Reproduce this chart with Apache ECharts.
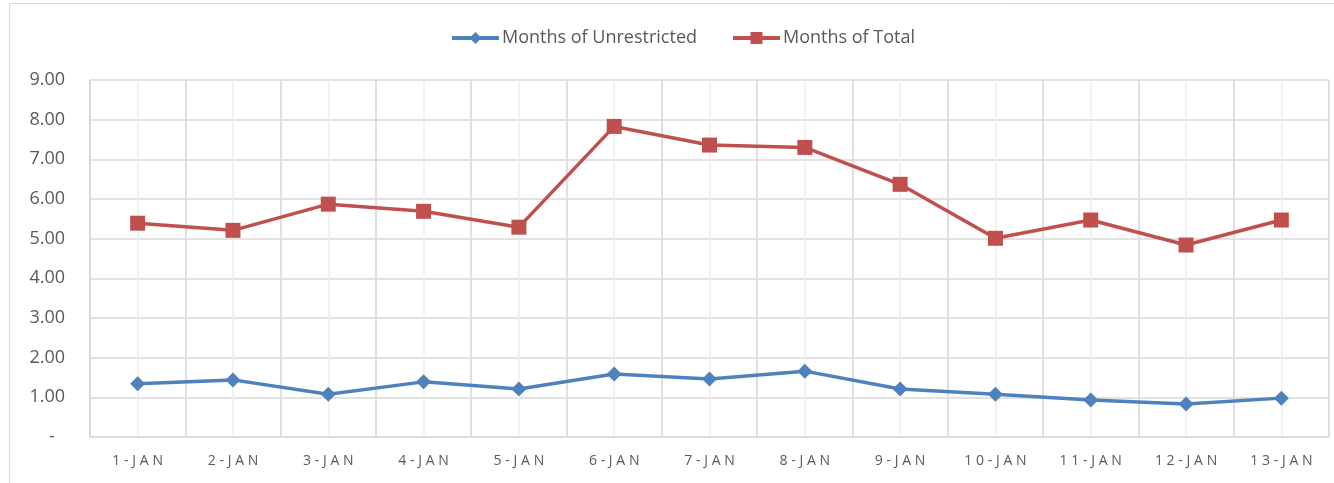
<!DOCTYPE html>
<html><head><meta charset="utf-8">
<script src="https://cdn.jsdelivr.net/npm/echarts@6/dist/echarts.min.js"></script>
<style>html,body{margin:0;padding:0;background:#fff}#c{width:1334px;height:483px}</style>
</head><body><div id="c"></div>
<script>
var categories = ['1-JAN','2-JAN','3-JAN','4-JAN','5-JAN','6-JAN','7-JAN','8-JAN','9-JAN','10-JAN','11-JAN','12-JAN','13-JAN'];
var unrestricted = [1.34,1.44,1.08,1.39,1.21,1.59,1.46,1.66,1.21,1.08,0.93,0.83,0.98];
var total = [5.39,5.21,5.87,5.69,5.29,7.83,7.36,7.30,6.37,5.01,5.47,4.84,5.47];
var seriesNames = ['Months of Unrestricted','Months of Total'];
var yTicks = [0,1,2,3,4,5,6,7,8,9];

var font = 'Open Sans';
var chart = echarts.init(document.getElementById('c'), null, {renderer:'canvas'});
chart.setOption({
  animation:false,
  backgroundColor:'#fff',
  graphic:[{type:'rect',shape:{x:9.5,y:3.5,width:1400,height:600},style:{fill:'none',stroke:'#d9d9d9',lineWidth:1},z:-10}],
  legend:{
    top:24, left:445, itemGap:34, itemWidth:47, itemHeight:15,
    lineStyle:{width:4},
    textStyle:{fontFamily:font,fontSize:18,color:'#595959',padding:[0,0,0,-2]},
    data:seriesNames
  },
  grid:{left:90,right:5,top:80,bottom:46,containLabel:false},
  xAxis:[
    {type:'value',position:'top',min:0,max:26,interval:1,show:true,
     axisLine:{show:false},axisTick:{show:false},axisLabel:{show:false},
     splitLine:{show:true,lineStyle:{color:'#eeeeee',width:1.5}}},
    {type:'category',position:'bottom',data:categories,boundaryGap:true,
     axisLine:{show:true,lineStyle:{color:'#d9d9d9',width:1.5}},
     axisTick:{show:false},
     splitLine:{show:true,interval:0,lineStyle:{color:'#d9d9d9',width:1.5}},
     axisLabel:{interval:0,margin:17,color:'#595959',fontFamily:font,fontSize:14,
       formatter:function(v){return v.split('').join('\u2009\u200a');}}}
  ],
  yAxis:{type:'value',min:yTicks[0],max:yTicks[yTicks.length-1],interval:1,
    axisLine:{show:true,lineStyle:{color:'#d9d9d9',width:1.5}},axisTick:{show:false},
    splitLine:{show:true,lineStyle:{color:'#d9d9d9',width:1.5}},
    axisLabel:{margin:25,color:'#595959',fontFamily:font,fontSize:18,
      formatter:function(v){return v===0?'-\u2007':v.toFixed(2);}}},
  series:[
    {name:seriesNames[0],type:'line',xAxisIndex:1,data:unrestricted,
     symbol:'diamond',symbolSize:15,
     lineStyle:{color:'#4f81bd',width:3.5},itemStyle:{color:'#4f81bd'}},
    {name:seriesNames[1],type:'line',xAxisIndex:1,data:total,
     symbol:'rect',symbolSize:15,
     lineStyle:{color:'#c0504d',width:3.5},itemStyle:{color:'#c0504d'}}
  ]
});
</script></body></html>
